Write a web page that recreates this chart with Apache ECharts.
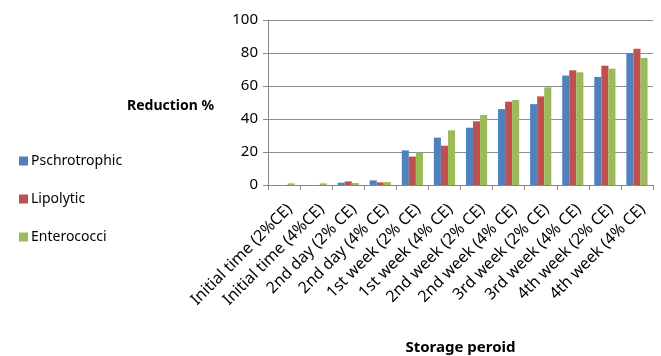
<!DOCTYPE html>
<html>
<head>
<meta charset="utf-8">
<script src="https://cdn.jsdelivr.net/npm/echarts@6/dist/echarts.min.js"></script>
<style>
  html, body { margin: 0; padding: 0; background: #fff; }
  #chart { width: 661px; height: 356px; }
</style>
</head>
<body>
<div id="chart"></div>
<script>
// Storage periods on the x axis
const periods = [
  'Initial time (2%CE)', 'Initial time (4%CE)', '2nd day (2% CE)', '2nd day (4% CE)',
  '1st week (2% CE)', '1st week (4% CE)', '2nd week (2% CE)', '2nd week (4% CE)',
  '3rd week (2% CE)', '3rd week (4% CE)', '4th week (2% CE)', '4th week (4% CE)'
];

// Reduction % for each bacterial group
const pschrotrophic = [0, 0, 1.4, 2.8, 21, 28.7, 34.7, 46, 49, 66.3, 65.5, 80];
const lipolytic     = [0, 0, 2.2, 1.6, 17.2, 23.8, 38.6, 50.5, 53.7, 69.5, 72.3, 82.6];
const enterococci   = [1, 1, 1.2, 1.8, 19.6, 33.1, 42.4, 51.5, 59.2, 68.3, 70.5, 77];

const yTicks = [0, 20, 40, 60, 80, 100];

const font = 'Noto Sans';
const chart = echarts.init(document.getElementById('chart'), null, { renderer: 'canvas' });

const bar = (name, data, color) => ({
  name, type: 'bar', data, barGap: '0%', barCategoryGap: '34%',
  itemStyle: { color }, animation: false
});

chart.setOption({
  animation: false,
  textStyle: { fontFamily: font },
  title: {
    text: 'Reduction %', left: 122, top: 94,
    textStyle: { fontFamily: font, fontSize: 14, fontWeight: 'bold', color: '#000' }
  },
  legend: {
    orient: 'vertical', left: 14, top: 149,
    itemWidth: 9, itemHeight: 9, itemGap: 24,
    icon: 'rect',
    textStyle: { fontFamily: font, fontSize: 14, color: '#000', padding: [0, 0, 0, -2] },
    data: ['Pschrotrophic', 'Lipolytic', 'Enterococci']
  },
  grid: { left: 268, right: 8, top: 20, bottom: 171, containLabel: false },
  xAxis: {
    type: 'category', data: periods,
    name: 'Storage peroid', nameLocation: 'middle', nameGap: 155,
    nameTextStyle: { fontFamily: font, fontSize: 15, fontWeight: 'bold', color: '#000' },
    axisLine: { lineStyle: { color: '#888', width: 1 } },
    axisTick: { show: true, alignWithLabel: false, length: 5, lineStyle: { color: '#888' } },
    axisLabel: {
      rotate: 45, interval: 0, fontFamily: font, fontSize: 16, color: '#000',
      margin: 16, align: 'right', verticalAlign: 'top'
    }
  },
  yAxis: {
    type: 'value', min: yTicks[0], max: yTicks[yTicks.length - 1], interval: 20,
    axisLine: { show: true, lineStyle: { color: '#888' } },
    axisTick: { show: true, length: 5, inside: false, lineStyle: { color: '#888' } },
    axisLabel: { fontFamily: font, fontSize: 15, color: '#000', margin: 10 },
    splitLine: { lineStyle: { color: '#8c8c8c', width: 1 } }
  },
  series: [
    bar('Pschrotrophic', pschrotrophic, '#4F81BD'),
    bar('Lipolytic', lipolytic, '#C0504D'),
    bar('Enterococci', enterococci, '#9BBB59')
  ]
});
</script>
</body>
</html>
